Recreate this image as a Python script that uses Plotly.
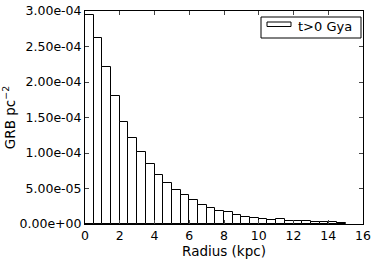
import plotly.graph_objects as go

bin_left = [0.0, 0.5, 1.0, 1.5, 2.0, 2.5, 3.0, 3.5, 4.0, 4.5, 5.0, 5.5, 6.0, 6.5, 7.0,
            7.5, 8.0, 8.5, 9.0, 9.5, 10.0, 10.5, 11.0, 11.5, 12.0, 12.5, 13.0, 13.5, 14.0, 14.5]
grb_density = [2.94e-4, 2.62e-4, 2.21e-4, 1.80e-4, 1.43e-4, 1.21e-4, 1.01e-4, 0.84e-4,
               0.685e-4, 0.573e-4, 0.484e-4, 0.415e-4, 0.34e-4, 0.27e-4, 0.224e-4,
               0.18e-4, 0.165e-4, 0.13e-4, 0.094e-4, 0.08e-4, 0.066e-4, 0.052e-4,
               0.064e-4, 0.042e-4, 0.038e-4, 0.036e-4, 0.028e-4, 0.023e-4, 0.022e-4, 0.014e-4]
bin_width = 0.5
y_ticks = [0, 0.5e-4, 1.0e-4, 1.5e-4, 2.0e-4, 2.5e-4, 3.0e-4]
y_tick_labels = ["0.00e+00", "5.00e-05", "1.00e-04", "1.50e-04", "2.00e-04", "2.50e-04", "3.00e-04"]
x_ticks = [0, 2, 4, 6, 8, 10, 12, 14, 16]
legend_label = "t>0 Gya"

centers = [b + bin_width / 2 for b in bin_left]

W, H = 374, 260
L, R, T, B = 85, 11, 11, 36
pw, ph = W - L - R, H - T - B

def px_x(p):
    return (p - L) / pw

def px_y(p):
    return 1 - (p - T) / ph

fig = go.Figure()
fig.add_trace(go.Bar(
    x=centers, y=grb_density, width=bin_width,
    marker=dict(color="white", line=dict(color="black", width=1)),
    name=legend_label, showlegend=False, hoverinfo="skip",
))

font = "DejaVu Sans, sans-serif"
fig.update_layout(
    width=W, height=H,
    margin=dict(l=L, r=R, t=T, b=B, autoexpand=False),
    paper_bgcolor="white", plot_bgcolor="white",
    font=dict(family=font, size=12, color="black"),
    bargap=0,
    showlegend=False,
    xaxis=dict(
        range=[0, 16], tickvals=x_ticks, ticks="inside", ticklen=4,
        showline=True, linecolor="black", linewidth=1, mirror="ticks",
        showgrid=False, zeroline=False, automargin=False,
        title=dict(text="Radius (kpc)", font=dict(size=13.5), standoff=0),
        tickfont=dict(size=12.5),
    ),
    yaxis=dict(
        range=[0, 3.0e-4], tickvals=y_ticks, ticktext=y_tick_labels,
        ticks="inside", ticklen=4,
        showline=True, linecolor="black", linewidth=1, mirror="ticks",
        showgrid=False, zeroline=False, automargin=False,
        title=dict(text="GRB pc<sup>−2</sup>", font=dict(size=13.5), standoff=6),
        tickfont=dict(size=12.5),
    ),
)

# manual legend (box, patch swatch, label)
fig.add_shape(type="rect", xref="paper", yref="paper",
              x0=px_x(261), x1=px_x(361), y0=px_y(38), y1=px_y(17),
              line=dict(color="black", width=1), fillcolor="white", layer="above")
fig.add_shape(type="rect", xref="paper", yref="paper",
              x0=px_x(267), x1=px_x(291), y0=px_y(26.5), y1=px_y(22),
              line=dict(color="black", width=1), fillcolor="white", layer="above")
fig.add_annotation(xref="paper", yref="paper", x=px_x(296), y=px_y(26.5),
                   xanchor="left", yanchor="middle", text=legend_label,
                   showarrow=False, font=dict(size=13, family=font, color="black"))

fig.write_html("out.html", config={"displayModeBar": False},
               post_script="document.body.style.margin='0';document.body.style.padding='0';")
